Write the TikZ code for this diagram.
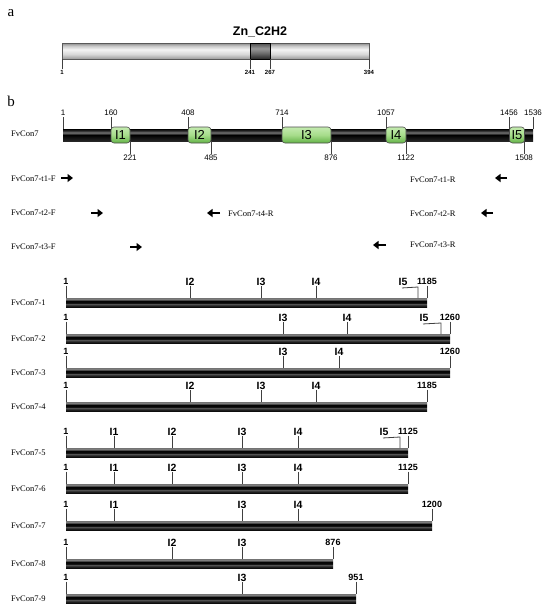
\documentclass[tikz,border=0pt]{standalone}
\usepackage{fontspec}
\setmainfont{Liberation Serif}
\setsansfont{Liberation Sans}
\usetikzlibrary{arrows.meta}
\definecolor{gA}{HTML}{9A9A9A}
\definecolor{gB}{HTML}{D8D8D8}
\definecolor{gC}{HTML}{F4F4F4}
\definecolor{gD}{HTML}{C8C8C8}
\definecolor{gE}{HTML}{8A8A8A}
\pgfdeclareverticalshading{abar}{100bp}{color(0bp)=(gA); color(25bp)=(gA); color(40bp)=(gB); color(55bp)=(gC); color(66bp)=(gD); color(75bp)=(gE); color(100bp)=(gE)}
\pgfdeclareverticalshading{zbar}{100bp}{color(0bp)=(black!85); color(25bp)=(black!85); color(42bp)=(black!60); color(58bp)=(black!40); color(75bp)=(black!70); color(100bp)=(black!70)}
\pgfdeclareverticalshading{mbar}{100bp}{color(0bp)=(black); color(25bp)=(black!85); color(50bp)=(black); color(60bp)=(black!55); color(67bp)=(black!80); color(75bp)=(black); color(100bp)=(black)}
\pgfdeclareverticalshading{tbar}{100bp}{color(0bp)=(black!95); color(25bp)=(black!95); color(34bp)=(black!85); color(41bp)=(black!65); color(48bp)=(black!95); color(58bp)=(black); color(64bp)=(black!70); color(68bp)=(black!50); color(75bp)=(black!55); color(100bp)=(black!55)}
\definecolor{grTop}{HTML}{C4EBB0}
\definecolor{grMid}{HTML}{A6DC8A}
\definecolor{grBot}{HTML}{62B246}
\tikzset{
  panel/.style={font=\fontsize{15}{15}\selectfont, inner sep=0pt},
  rowlbl/.style={font=\fontsize{8.5}{9}\selectfont, inner sep=0pt, anchor=west},
  tick/.style={draw=black!75, line width=0.8pt},
  tinylbl/.style={font=\sffamily\bfseries\fontsize{6}{6}\selectfont, inner sep=0.5pt},
  numlbl/.style={font=\sffamily\fontsize{8}{8}\selectfont, inner sep=0.8pt},
  tlbl/.style={font=\sffamily\bfseries\fontsize{9}{9}\selectfont, inner sep=0.8pt},
  ilbl/.style={font=\sffamily\bfseries\fontsize{10.5}{10.5}\selectfont, inner sep=0.6pt},
  intron/.style={draw=black!70, line width=0.6pt, rounded corners=3pt, top color=grTop, bottom color=grBot, middle color=grMid, minimum height=16pt, inner sep=0pt, font=\sffamily\fontsize{13}{13}\selectfont},
  primer/.style={line width=2.6pt, -{Triangle[length=5.5pt,width=8pt]}},
}
\newcommand{\trow}[5]{%
  \node[rowlbl] (r#2) at (11,#1+5) {#3};
  \path[shading=tbar] (66,#1) rectangle (#4,#1+9);
  \node[tlbl] (s#2) at (66,#1-16.5) {1};
  \draw[tick] (s#2.south) -- (66,#1);
  \node[tlbl] (e#2) at (#4,#1-16.5) {#5};
  \draw[tick] (e#2.south) -- (#4,#1);
}
\newcommand{\tint}[3]{%
  \foreach \xx/\tt [count=\k] in {#3} {
    \node[ilbl] (i#2-\k) at (\xx,#1-16.5) {\tt};
    \draw[tick] (i#2-\k.south) -- (\xx,#1);
  }
}
\newcommand{\tfive}[4]{%
  \node[ilbl] (f#2) at (#3,#1-16.5) {I5};
  \draw[tick] (f#2.south) ++(-1,2) -- (#4,#1-11) -- (#4,#1);
}
\begin{document}
\begin{tikzpicture}[x=1pt,y=-1pt]
\useasboundingbox (0,0) rectangle (550,614);
% ---------- panel a
\node[panel] (la) at (11,13) {a};
\path[shading=abar, draw=black!65, line width=0.6pt] (62,43) rectangle (369,59);
\path[shading=zbar, draw=black, line width=0.6pt] (250,43) rectangle (270,59);
\node[font=\sffamily\bfseries\fontsize{12.5}{12.5}\selectfont, inner sep=0pt] (zn) at (260,32) {Zn\_C2H2};
\foreach \x/\t/\n in {62/1/a1, 250/241/a2, 270/267/a3, 369/394/a4} {
  \node[tinylbl] (\n) at (\x,72) {\t};
  \draw[tick, line width=0.6pt] (\n.north) -- (\x,59);
}
% ---------- panel b
\node[panel] (lb) at (11,101) {b};
\node[rowlbl] (fv) at (11,134) {FvCon7};
\path[shading=mbar] (63,129) rectangle (533,141);
\foreach \x/\t/\n in {63/1/u1, 111/160/u2, 188/408/u3, 282/714/u4, 386/1057/u5, 509/1456/u6, 533/1536/u7} {
  \node[numlbl] (\n) at (\x,113) {\t};
  \draw[tick] (\n.south) -- (\x,129);
}
\foreach \x/\t/\n in {130/221/d1, 211/485/d2, 331/876/d3, 406/1122/d4, 524/1508/d5} {
  \node[numlbl] (\n) at (\x,158) {\t};
  \draw[tick] (\n.north) -- (\x,141);
}
\node[intron, minimum width=19pt] (I1) at (120.5,135) {I1};
\node[intron, minimum width=23pt] (I2) at (199.5,135) {I2};
\node[intron, minimum width=49pt] (I3) at (306.5,135) {I3};
\node[intron, minimum width=20pt] (I4) at (396,135) {I4};
\node[intron, minimum width=15pt] (I5) at (517,135) {I5};
% ---------- primers
\node[rowlbl] (t1F) at (11,179) {FvCon7-t1-F};
\node[rowlbl] (t2F) at (11,213) {FvCon7-t2-F};
\node[rowlbl] (t3F) at (11,247) {FvCon7-t3-F};
\node[rowlbl] (t4R) at (228,214) {FvCon7-t4-R};
\node[rowlbl] (t1R) at (410,180) {FvCon7-t1-R};
\node[rowlbl] (t2R) at (410,214) {FvCon7-t2-R};
\node[rowlbl] (t3R) at (410,245) {FvCon7-t3-R};
\coordinate (p1a) at (61,178);  \coordinate (p1b) at (73,178);
\coordinate (p2a) at (91,213);  \coordinate (p2b) at (103,213);
\coordinate (p3a) at (130,247); \coordinate (p3b) at (142,247);
\coordinate (p4a) at (220,213); \coordinate (p4b) at (207,213);
\coordinate (p5a) at (507,178); \coordinate (p5b) at (495,178);
\coordinate (p6a) at (493,213); \coordinate (p6b) at (481,213);
\coordinate (p7a) at (386,245); \coordinate (p7b) at (373,245);
\foreach \n in {1,...,7} { \draw[primer] (p\n a) -- (p\n b); }
% ---------- transcripts
\trow{298}{1}{FvCon7-1}{427}{1185}
\tint{298}{1}{190/I2, 261/I3, 316/I4}
\tfive{298}{1}{403}{418}
\trow{334}{2}{FvCon7-2}{450}{1260}
\tint{334}{2}{283/I3, 347/I4}
\tfive{334}{2}{424}{441}
\trow{368}{3}{FvCon7-3}{450}{1260}
\tint{368}{3}{283/I3, 339/I4}
\trow{402}{4}{FvCon7-4}{427}{1185}
\tint{402}{4}{190/I2, 261/I3, 316/I4}
\trow{448}{5}{FvCon7-5}{408}{1125}
\tint{448}{5}{114/I1, 172/I2, 242/I3, 298/I4}
\tfive{448}{5}{384}{400}
\trow{484}{6}{FvCon7-6}{408}{1125}
\tint{484}{6}{114/I1, 172/I2, 242/I3, 298/I4}
\trow{521}{7}{FvCon7-7}{432}{1200}
\tint{521}{7}{114/I1, 242/I3, 298/I4}
\trow{559}{8}{FvCon7-8}{333}{876}
\tint{559}{8}{172/I2, 242/I3}
\trow{594}{9}{FvCon7-9}{356}{951}
\tint{594}{9}{242/I3}
\end{tikzpicture}
\end{document}
